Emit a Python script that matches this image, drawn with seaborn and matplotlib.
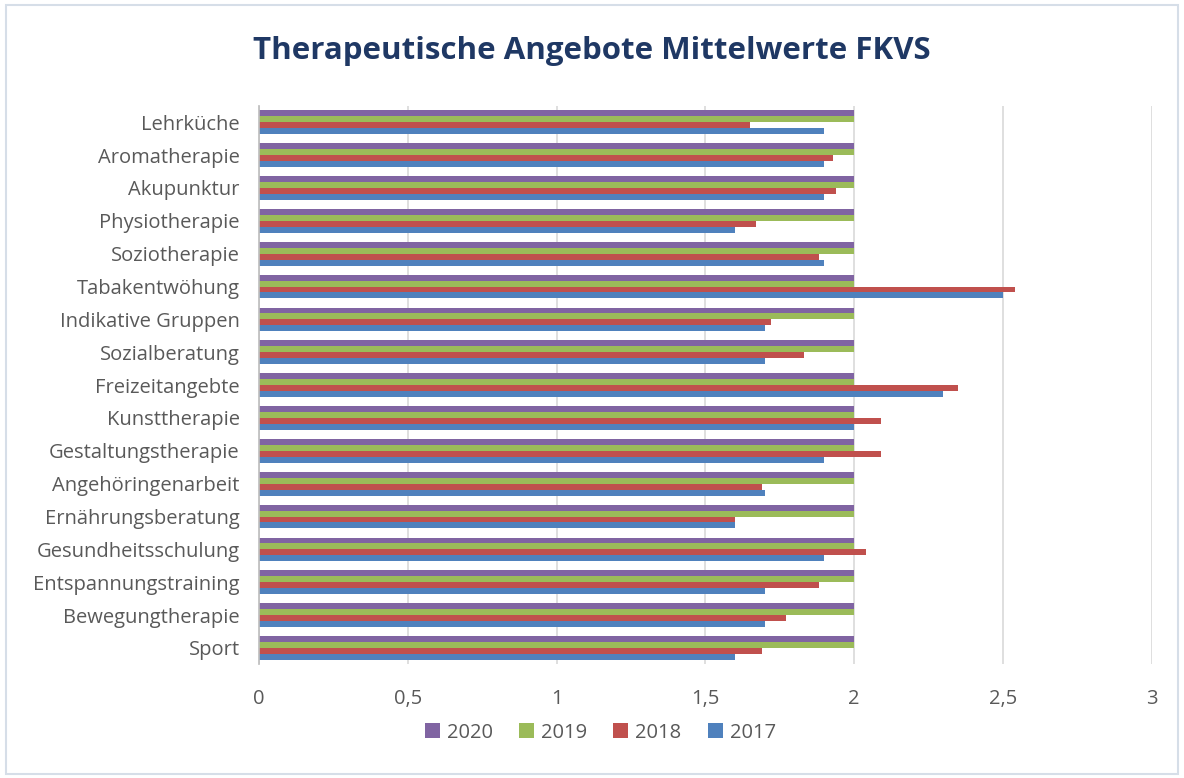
import matplotlib
matplotlib.use("Agg")
import matplotlib.pyplot as plt
import seaborn as sns
import pandas as pd
from matplotlib.patches import Rectangle
from matplotlib.ticker import FuncFormatter

categories = ["Lehrküche", "Aromatherapie", "Akupunktur", "Physiotherapie", "Soziotherapie",
              "Tabakentwöhung", "Indikative Gruppen", "Sozialberatung", "Freizeitangebte",
              "Kunsttherapie", "Gestaltungstherapie", "Angehöringenarbeit", "Ernährungsberatung",
              "Gesundheitsschulung", "Entspannungstraining", "Bewegungtherapie", "Sport"]
years = ["2020", "2019", "2018", "2017"]
v2020 = [2.0] * 17
v2019 = [2.0] * 17
v2018 = [1.65, 1.93, 1.94, 1.67, 1.88, 2.54, 1.72, 1.83, 2.35, 2.09, 2.09, 1.69, 1.60, 2.04, 1.88, 1.77, 1.69]
v2017 = [1.90, 1.90, 1.90, 1.60, 1.90, 2.50, 1.70, 1.70, 2.30, 2.00, 1.90, 1.70, 1.60, 1.90, 1.70, 1.70, 1.60]
colors = ["#8064A2", "#9BBB59", "#C0504D", "#4F81BD"]

rows = []
for yr, vals in zip(years, [v2020, v2019, v2018, v2017]):
    for c, v in zip(categories, vals):
        rows.append({"Angebot": c, "Jahr": yr, "Wert": v})
df = pd.DataFrame(rows)

sns.set_theme(style="white")
plt.rcParams["font.family"] = ["Open Sans", "DejaVu Sans"]

fig = plt.figure(figsize=(11.84, 7.78), dpi=100)
ax = fig.add_axes([0.2188, 0.146, 0.754, 0.718])

sns.barplot(data=df, y="Angebot", x="Wert", hue="Jahr", hue_order=years,
            order=categories, palette=colors, orient="h", width=0.72,
            saturation=1, ax=ax, edgecolor="none")

ax.set_xlim(0, 3)
ax.set_xticks([0, 0.5, 1, 1.5, 2, 2.5, 3])
ax.xaxis.set_major_formatter(FuncFormatter(lambda v, p: f"{v:g}".replace(".", ",")))
ax.grid(axis="x", color="#D9D9D9", linewidth=1.2)
ax.set_axisbelow(True)
for s in ["top", "right", "bottom"]:
    ax.spines[s].set_visible(False)
ax.spines["left"].set_color("#BFBFBF")
ax.tick_params(axis="both", length=0, colors="#595959", labelsize=14.5)
ax.tick_params(axis="x", pad=18)
ax.tick_params(axis="y", pad=14)
ax.set_xlabel("")
ax.set_ylabel("")

handles, labels = ax.get_legend_handles_labels()
ax.get_legend().remove()
fig.legend(handles, labels, loc="center", bbox_to_anchor=(0.507, 0.058), ncol=4,
           frameon=False, fontsize=14.5, labelcolor="#595959", handlelength=0.75,
           handleheight=0.75, columnspacing=1.3, handletextpad=0.35)

fig.text(0.5, 0.935, "Therapeutische Angebote Mittelwerte FKVS", ha="center", va="center",
         fontsize=22.5, fontweight="bold", color="#1F3864")

fig.patches.append(Rectangle((0.005, 0.005), 0.99, 0.988, transform=fig.transFigure,
                             fill=False, edgecolor="#D6DEE8", linewidth=1.5))

fig.savefig("out.png", dpi=100)
plt.close(fig)
